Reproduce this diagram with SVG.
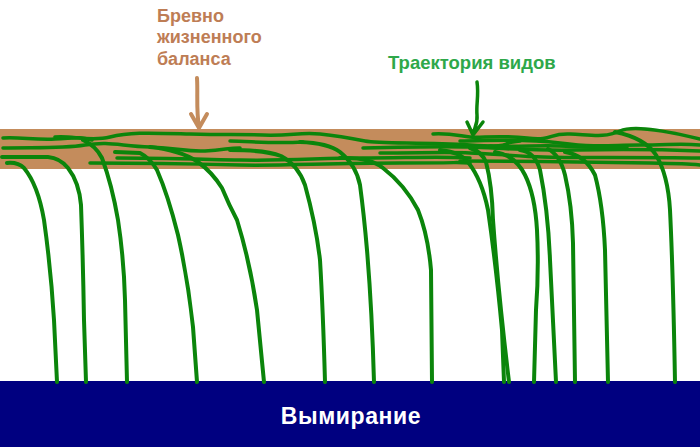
<svg xmlns="http://www.w3.org/2000/svg" width="700" height="447" viewBox="0 0 700 447">
<style>
.g{fill:none;stroke:#0b850b;stroke-width:4;stroke-linecap:round;stroke-linejoin:round}
.h{fill:none;stroke:#0b850b;stroke-width:3.5;stroke-linecap:round;stroke-linejoin:round}
.lbl{font-family:"Liberation Sans",Arial,sans-serif;font-weight:bold;font-size:18px}
</style>
<rect width="700" height="447" fill="#ffffff"/>
<g id="log">
<rect x="0" y="129" width="700" height="40" fill="#c48c5c"/>
</g>
<g id="extinction">
<rect x="0" y="381" width="700" height="66" fill="#000080"/>
<text x="351" y="424" text-anchor="middle" class="lbl" style="font-size:23px;letter-spacing:0.6px" fill="#ffffff">Вымирание</text>
</g>
<g id="log-label">
<text class="lbl" fill="#be7d55"><tspan x="157" y="22">Бревно</tspan><tspan x="157" y="43">жизненного</tspan><tspan x="157" y="65">баланса</tspan></text>
<path d="M197,78 C198,95 196,110 199,127 M191,114 L199,128 L207,114" fill="none" stroke="#c48c5c" stroke-width="4" stroke-linecap="round" stroke-linejoin="round"/>
</g>
<g id="trajectory-label">
<text x="388" y="69" class="lbl" style="font-size:18.5px" fill="#2ea84a">Траектория видов</text>
<path d="M477,82 C479,95 476,105 477,115 S474,128 473,134 M467,122 L473,135 L483,122" fill="none" stroke="#0b850b" stroke-width="3.5" stroke-linecap="round" stroke-linejoin="round"/>
</g>
<g id="connectors">
<path class="h" d="M3,138 C20,137 35,140 55,139 S78,136 92,140"/>
<path class="h" d="M55,137 C70,135 90,142 110,137 S150,133 190,134 S235,134 263,135 S300,132 320,134 S350,138 365,141 S420,142 470,145 S495,143 520,141"/>
<path class="h" d="M3,148 C30,147 60,149 85,145 S120,146 150,147 S185,152 205,151 S228,148 240,148"/>
<path class="h" d="M230,141 C250,141 270,144 303,142"/>
<path class="h" d="M117,158 C150,158 190,159 240,160 S320,158 363,158 S440,156 470,158"/>
<path class="h" d="M90,163 C140,163 200,164 240,165 S330,163 400,163 S450,162 470,163"/>
<path class="h" d="M363,148 C400,147 440,146 470,147 S530,151 577,150 S650,149 700,151"/>
<path class="h" d="M380,153 C420,153 450,152 470,153 S520,156 543,157 S640,157 700,158"/>
<path class="h" d="M460,161 C520,161 600,162 650,163 S690,164 700,165"/>
<path class="h" d="M433,134 C450,133 460,136 470,137 S500,135 527,138 S548,133 570,134 S605,138 620,131 S675,133 700,139"/>
<path class="h" d="M460,141 C490,141 520,138 560,143 S610,145 640,145 S680,143 700,145"/>
<path class="h" d="M490,146 C520,147 540,145 560,146 S600,148 627,147"/>
<path class="g" d="M7,163 Q18,162 24,168 Q38,185 44,220 Q51,270 54,320 L57,382"/>
<path class="g" d="M2,157 L48,157 Q60,158 68,168 Q79,182 81,205 Q83,260 84,320 L86,382"/>
<path class="g" d="M83,140 Q96,146 102,158 Q112,185 118,220 Q124,260 125,300 L127,382"/>
<path class="g" d="M115,152 L140,153 Q150,158 157,170 Q168,195 178,235 Q188,280 193,327 L197,382"/>
<path class="g" d="M150,147 Q180,150 198,162 Q212,172 222,188 Q229,205 237,220 Q250,262 257,310 L264,382"/>
<path class="g" d="M230,150 Q265,150 281,156 Q298,165 305,185 Q316,225 320,260 Q323,310 325,382"/>
<path class="g" d="M300,142 Q328,143 340,152 Q356,165 360,185 Q364,215 367,250 Q372,310 374,382"/>
<path class="g" d="M340,158 Q370,157 383,168 Q405,185 418,210 Q428,235 431,270 L432,382"/>
<path class="g" d="M440,150 Q460,152 468,162 Q482,180 488,210 Q496,265 502,330 L504,382"/>
<path class="g" d="M470,148 Q482,152 486,162 Q492,185 493,220 Q498,290 509,382"/>
<path class="g" d="M495,152 Q515,155 525,175 Q535,195 537,230 Q539,270 536,310 L534,382"/>
<path class="g" d="M520,150 Q535,152 540,170 Q548,210 550,260 L556,382"/>
<path class="g" d="M548,149 Q560,155 565,175 Q572,205 573,243 L575,382"/>
<path class="g" d="M565,152 Q585,155 595,175 Q603,205 605,250 L608,382"/>
<path class="g" d="M615,132 Q645,138 656,155 Q668,175 670,210 Q673,270 675,382"/>
</g>
</svg>
